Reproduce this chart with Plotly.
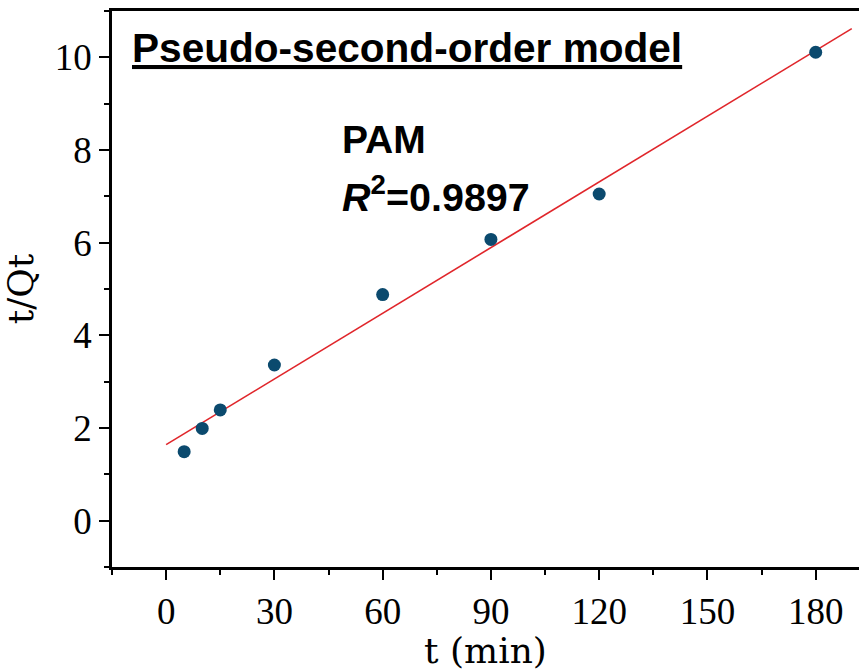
import plotly.graph_objects as go

# Data
t_min = [5, 10, 15, 30, 60, 90, 120, 180]
t_over_qt = [1.49, 1.99, 2.39, 3.36, 4.88, 6.07, 7.05, 10.11]
fit_x = [0, 190]
fit_y = [1.64, 10.62]
x_ticks = [0, 30, 60, 90, 120, 150, 180]
y_ticks = [0, 2, 4, 6, 8, 10]

fig = go.Figure()
fig.add_trace(go.Scatter(x=fit_x, y=fit_y, mode="lines",
                         line=dict(color="#e0262b", width=1.6), showlegend=False))
fig.add_trace(go.Scatter(x=t_min, y=t_over_qt, mode="markers",
                         marker=dict(color="#0b4a6e", size=13), showlegend=False))

tickfont = dict(family="Liberation Serif", size=37, color="black")
titlefont = dict(family="DejaVu Serif", size=36, color="black")

fig.update_layout(
    width=859, height=671,
    margin=dict(l=112, r=0, t=11, b=104),
    plot_bgcolor="white", paper_bgcolor="white",
    xaxis=dict(range=[-15, 192], tickvals=x_ticks, ticktext=[str(v) for v in x_ticks],
               showgrid=False, zeroline=False, showline=True, linecolor="black", linewidth=2.5,
               mirror=True, ticks="outside", ticklen=10, tickwidth=2, tickcolor="black",
               minor=dict(ticks="outside", ticklen=5, tickwidth=2, tickcolor="black", dtick=15, tick0=0),
               tickfont=tickfont,
               title=dict(text="t (min)", font=titlefont, standoff=0)),
    yaxis=dict(range=[-1, 11], tickvals=y_ticks, ticktext=[str(v) for v in y_ticks],
               showgrid=False, zeroline=False, showline=True, linecolor="black", linewidth=2.5,
               ticks="outside", ticklen=10, tickwidth=2, tickcolor="black",
               minor=dict(ticks="outside", ticklen=5, tickwidth=2, tickcolor="black", dtick=1, tick0=0),
               tickfont=tickfont,
               title=dict(text="t/Qt", font=titlefont, standoff=14)),
    annotations=[
        dict(text="Pseudo-second-order model", xref="paper", yref="paper",
             x=(131 - 112) / 747, y=1 - (48 - 11) / 556, xanchor="left", yanchor="middle",
             showarrow=False, borderpad=0,
             font=dict(family="Liberation Sans", size=40.6, color="black", weight="bold",
                       lineposition="under")),
        dict(text="<b>PAM</b>", xref="paper", yref="paper",
             x=(341 - 112) / 747, y=1 - (139 - 11) / 556, xanchor="left", yanchor="middle",
             showarrow=False, borderpad=0,
             font=dict(family="Liberation Sans", size=39, color="black")),
        dict(text="<b><i>R</i><sup>2</sup>=0.9897</b>", xref="paper", yref="paper",
             x=(341 - 112) / 747, y=1 - (194 - 11) / 556, xanchor="left", yanchor="middle",
             showarrow=False, borderpad=0,
             font=dict(family="Liberation Sans", size=39.5, color="black")),
    ],
)

fig.write_html("out.html")
